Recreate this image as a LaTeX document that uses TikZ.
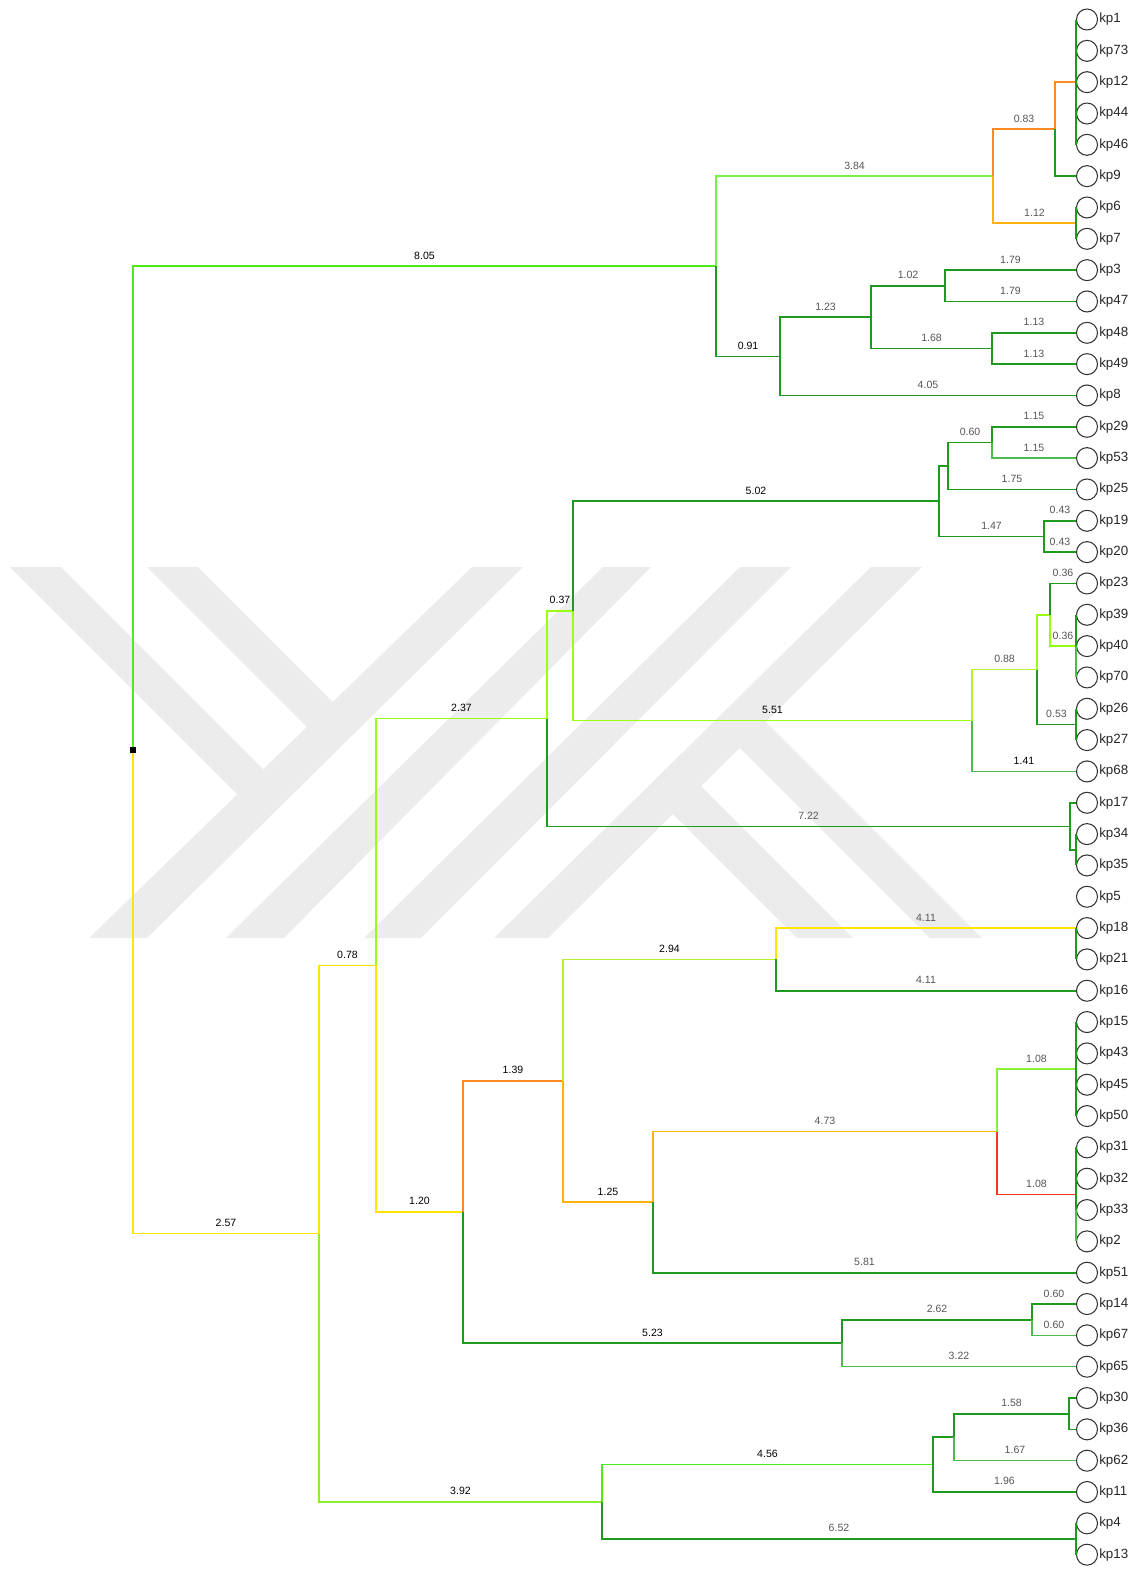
\documentclass[tikz,border=0pt]{standalone}
\usepackage{fontspec}
\setmainfont{Liberation Sans}

\definecolor{dkgreen}{HTML}{1E9B1E}
\definecolor{mdgreen}{HTML}{4DBB4D}
\definecolor{lime}{HTML}{4CEC1A}
\definecolor{ltlime}{HTML}{77F044}
\definecolor{ltgreen}{HTML}{88F033}
\definecolor{chart}{HTML}{99FF11}
\definecolor{yelgreen}{HTML}{B5F033}
\definecolor{yel}{HTML}{FFE400}
\definecolor{orng}{HTML}{FF8A22}
\definecolor{ambr}{HTML}{FFB00A}
\definecolor{redd}{HTML}{FF3322}
\definecolor{wmark}{HTML}{ECECEC}
\definecolor{lblgray}{HTML}{555555}

\tikzset{
  br/.style={line width=0.9pt},
  leaf/.style={circle,draw=black!80,line width=0.6pt,minimum size=0.42cm,inner sep=0pt},
  kpl/.style={font=\fontsize{7.6}{9}\selectfont,text=black!85,inner sep=0.5pt},
  bl/.style={font=\fontsize{6}{7}\selectfont,inner sep=1pt,above=2.5pt,pos=0.75},
  bk/.style={bl,text=black},
  gy/.style={bl,text=lblgray}
}

\begin{document}
\begin{tikzpicture}[x=0.02cm,y=-0.02cm]
\useasboundingbox (0,0) rectangle (1138,1569);
%watermark
\fill[wmark] (472,567) -- (523,567) -- (147,938) -- (89,938) -- cycle;
\fill[wmark] (603,567) -- (651,567) -- (284,938) -- (226,938) -- cycle;
\fill[wmark] (740,567) -- (791,567) -- (421,938) -- (364,938) -- cycle;
\fill[wmark] (871,567) -- (922,567) -- (548,938) -- (494,938) -- cycle;
\fill[wmark] (10,567) -- (61,567) -- (283,789) -- (257,814) -- cycle;
\fill[wmark] (147,567) -- (198,567) -- (353,722) -- (327,747) -- cycle;
\fill[wmark] (754,710) -- (982,938) -- (930,938) -- (728,736) -- cycle;
\fill[wmark] (690,775) -- (853,938) -- (797,938) -- (662,803) -- cycle;

%put leaves
\foreach \lab [count=\i from 0] in {kp1,kp73,kp12,kp44,kp46,kp9,kp6,kp7,kp3,kp47,
  kp48,kp49,kp8,kp29,kp53,kp25,kp19,kp20,kp23,kp39,kp40,kp70,kp26,kp27,kp68,
  kp17,kp34,kp35,kp5,kp18,kp21,kp16,kp15,kp43,kp45,kp50,kp31,kp32,kp33,kp2,
  kp51,kp14,kp67,kp65,kp30,kp36,kp62,kp11,kp4,kp13}
  \node[leaf,label={[kpl]east:\lab}] (\lab) at (1087,{19.5+31.33*\i}) {};

%groups of equal leaves
\coordinate (gA) at (kp12.west);
\path (kp6.west) -- (kp7.west) coordinate[pos=0.5] (gB);
\coordinate (gC) at (kp40.west);
\path (kp26.west) -- (kp27.west) coordinate[pos=0.5] (gD);
\path (kp34.west) -- (kp35.west) coordinate[pos=0.5] (gE);
\coordinate (gF) at (kp18.west);
\path (kp43.west) -- (kp45.west) coordinate[pos=0.5] (gG);
\path (kp32.west) -- (kp33.west) coordinate[pos=0.5] (gH);
\path (kp4.west) -- (kp13.west) coordinate[pos=0.5] (gI);

%joints
%top
\coordinate (nY) at (716,266.2);
\coordinate (nX) at (993,176.2);
\coordinate (nZ) at (780,356.3);
\coordinate (n083) at (1055,129.2);
\coordinate (nW) at (871,317.1);
\coordinate (nV) at (945,285.8);
\coordinate (nU) at (992,348.5);
%middle
\coordinate (n060) at (992,442.5);
\coordinate (nM1) at (948,466);
\coordinate (nM2) at (1044,536.5);
\coordinate (nM3) at (939,501.2);
\coordinate (nP1) at (1050,614.8);
\coordinate (nP2) at (1037,669.6);
\coordinate (nP3) at (972,720.5);
\coordinate (n037) at (573,610.9);
\coordinate (nQ) at (547,718.6);
\coordinate (t1) at (1070,826.3);
%bottom
\coordinate (nS1) at (776,959.4);
\coordinate (nS2) at (997,1131.6);
\coordinate (nS3) at (653,1202.2);
\coordinate (nS4) at (563,1080.8);
\coordinate (nT1) at (1032,1319.7);
\coordinate (nT2) at (842,1343.2);
\coordinate (nT3) at (463,1212);
\coordinate (nR) at (376,965.3);
\coordinate (nU1) at (954,1437.2);
\coordinate (nU2) at (933,1464.6);
\coordinate (nU3) at (602,1501.8);
\coordinate (nV1) at (319,1233.6);
\coordinate (t2) at (1069,1413.7);
\node[fill=black,inner sep=0pt,minimum size=0.12cm] (root) at (133,750) {};

%plot the tree
%top cluster
\draw[br,lime] (root) |- node[bk]{8.05} (nY);
\draw[br,ltlime] (nY) |- node[gy]{3.84} (nX);
\draw[br,dkgreen] (nY) |- node[bk]{0.91} (nZ);
\draw[br,orng] (nX) |- node[gy]{0.83} (n083);
\draw[br,ambr] (nX) |- node[gy]{1.12} (gB);
\draw[br,orng] (n083) |- (gA);
\draw[br,dkgreen] (n083) |- (kp9.west);
\draw[br,dkgreen] (nZ) |- node[gy]{1.23} (nW);
\draw[br,dkgreen] (nZ) |- node[gy]{4.05} (kp8.west);
\draw[br,dkgreen] (nW) |- node[gy]{1.02} (nV);
\draw[br,dkgreen] (nW) |- node[gy]{1.68} (nU);
\draw[br,dkgreen] (nV) |- node[gy]{1.79} (kp3.west);
\draw[br,dkgreen] (nV) |- node[gy]{1.79} (kp47.west);
\draw[br,dkgreen] (nU) |- node[gy]{1.13} (kp48.west);
\draw[br,dkgreen] (nU) |- node[gy]{1.13} (kp49.west);
\draw[br,dkgreen] (kp1.west) -- (kp46.west);
\draw[br,dkgreen] (kp6.west) -- (kp7.west);
%middle cluster
\draw[br,yel] (root) |- node[bk]{2.57} (nV1);
\draw[br,yel] (nV1) |- node[bk]{0.78} (nR);
\draw[br,ltgreen] (nV1) |- node[bk]{3.92} (nU3);
\draw[br,chart] (nR) |- node[bk]{2.37} (nQ);
\draw[br,yel] (nR) |- node[bk]{1.20} (nT3);
\draw[br,chart] (nQ) |- node[bk]{0.37} (n037);
\draw[br,dkgreen] (nQ) |- node[gy]{7.22} (t1);
\draw[br,dkgreen] (n037) |- node[bk]{5.02} (nM3);
\draw[br,chart] (n037) |- node[bk]{5.51} (nP3);
\draw[br,dkgreen] (nM3) |- (nM1);
\draw[br,dkgreen] (nM3) |- node[gy]{1.47} (nM2);
\draw[br,dkgreen] (nM1) |- node[gy]{0.60} (n060);
\draw[br,dkgreen] (nM1) |- node[gy]{1.75} (kp25.west);
\draw[br,dkgreen] (n060) |- node[gy]{1.15} (kp29.west);
\draw[br,mdgreen] (n060) |- node[gy]{1.15} (kp53.west);
\draw[br,dkgreen] (nM2) |- node[gy]{0.43} (kp19.west);
\draw[br,dkgreen] (nM2) |- node[gy]{0.43} (kp20.west);
\draw[br,yelgreen] (nP3) |- node[gy]{0.88} (nP2);
\draw[br,mdgreen] (nP3) |- node[bk]{1.41} (kp68.west);
\draw[br,chart] (nP2) |- (nP1);
\draw[br,dkgreen] (nP2) |- node[gy]{0.53} (gD);
\draw[br,dkgreen] (nP1) |- node[gy]{0.36} (kp23.west);
\draw[br,chart] (nP1) |- node[gy]{0.36} (gC);
\draw[br,dkgreen] (kp39.west) -- (kp40.west);
\draw[br,mdgreen] (kp40.west) -- (kp70.west);
\draw[br,dkgreen] (kp26.west) -- (kp27.west);
\draw[br,dkgreen] (t1) |- (kp17.west);
\draw[br,dkgreen] (t1) |- (gE);
\draw[br,dkgreen] (kp34.west) -- (kp35.west);
%bottom cluster
\draw[br,orng] (nT3) |- node[bk]{1.39} (nS4);
\draw[br,dkgreen] (nT3) |- node[bk]{5.23} (nT2);
\draw[br,yelgreen] (nS4) |- node[bk]{2.94} (nS1);
\draw[br,ambr] (nS4) |- node[bk]{1.25} (nS3);
\draw[br,yel] (nS1) |- node[gy]{4.11} (gF);
\draw[br,dkgreen] (nS1) |- node[gy]{4.11} (kp16.west);
\draw[br,dkgreen] (kp18.west) -- (kp21.west);
\draw[br,ambr] (nS3) |- node[gy]{4.73} (nS2);
\draw[br,dkgreen] (nS3) |- node[gy]{5.81} (kp51.west);
\draw[br,ltgreen] (nS2) |- node[gy]{1.08} (gG);
\draw[br,redd] (nS2) |- node[gy]{1.08} (gH);
\draw[br,dkgreen] (kp15.west) -- (kp50.west);
\draw[br,dkgreen] (kp31.west) -- (kp33.west);
\draw[br,mdgreen] (kp33.west) -- (kp2.west);
\draw[br,dkgreen] (nT2) |- node[gy]{2.62} (nT1);
\draw[br,mdgreen] (nT2) |- node[gy]{3.22} (kp65.west);
\draw[br,dkgreen] (nT1) |- node[gy]{0.60} (kp14.west);
\draw[br,mdgreen] (nT1) |- node[gy]{0.60} (kp67.west);
\draw[br,lime] (nU3) |- node[bk]{4.56} (nU2);
\draw[br,dkgreen] (nU3) |- node[gy]{6.52} (gI);
\draw[br,dkgreen] (nU2) |- (nU1);
\draw[br,dkgreen] (nU2) |- node[gy]{1.96} (kp11.west);
\draw[br,dkgreen] (nU1) |- node[gy]{1.58} (t2);
\draw[br,mdgreen] (nU1) |- node[gy]{1.67} (kp62.west);
\draw[br,dkgreen] (t2) |- (kp30.west);
\draw[br,dkgreen] (t2) |- (kp36.west);
\draw[br,dkgreen] (kp4.west) -- (kp13.west);
\end{tikzpicture}
\end{document}
